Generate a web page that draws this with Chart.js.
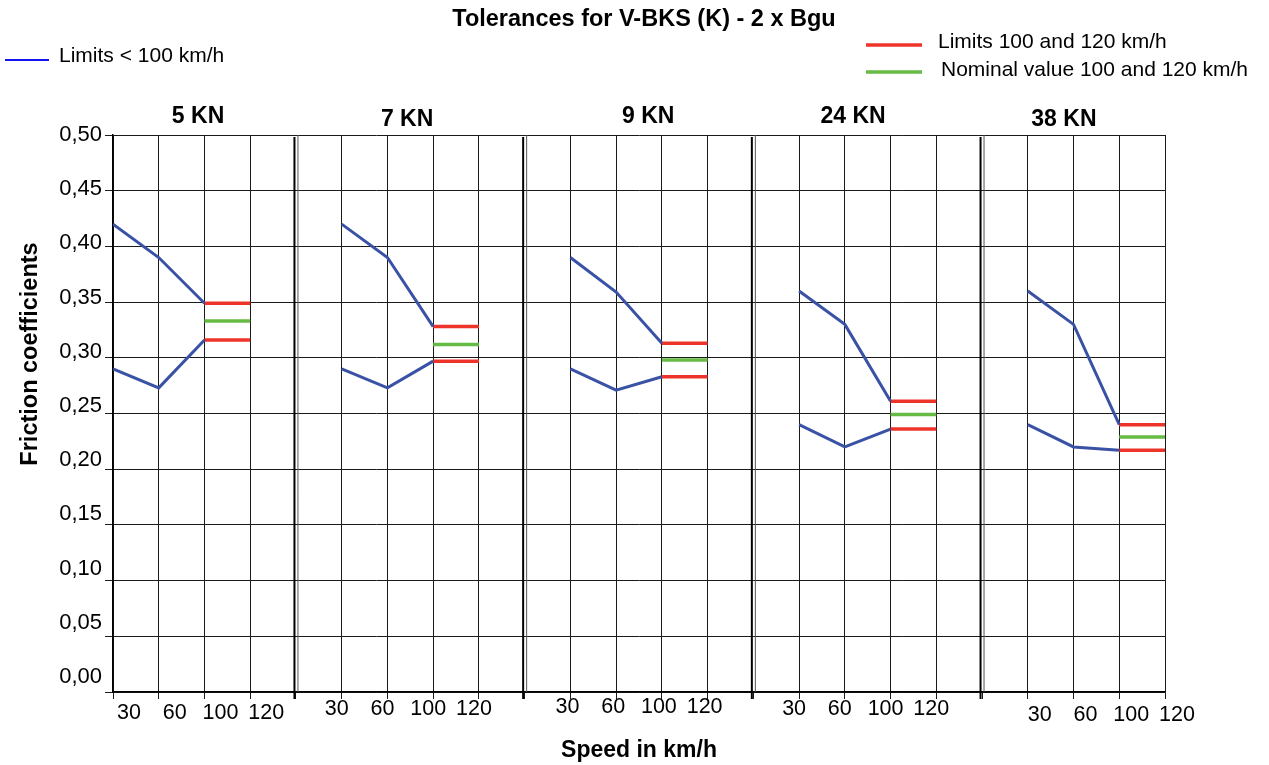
<!DOCTYPE html>
<html>
<head>
<meta charset="utf-8">
<title>Tolerances for V-BKS (K) - 2 x Bgu</title>
<script src="https://cdn.jsdelivr.net/npm/chart.js@4.4.1/dist/chart.umd.min.js"></script>
<style>
  body { margin: 0; background: #fff; }
  #wrap { width: 1269px; height: 765px; }
</style>
</head>
<body>
<div id="wrap"><canvas id="frictionChart" width="1269" height="765"></canvas></div>
<script>
// valores
var forces = ['5 KN', '7 KN', '9 KN', '24 KN', '38 KN'];
var speeds = ['30', '60', '100', '120'];
var yTicks = [0, 0.05, 0.10, 0.15, 0.20, 0.25, 0.30, 0.35, 0.40, 0.45, 0.50];

// limites < 100 km/h (30, 60, 100)
var upperLimit = [
    [0.42, 0.39, 0.349],
    [0.42, 0.39, 0.328],
    [0.39, 0.359, 0.313],
    [0.36, 0.33, 0.261],
    [0.36, 0.33, 0.240]
];
var lowerLimit = [
    [0.29, 0.273, 0.316],
    [0.29, 0.273, 0.297],
    [0.29, 0.271, 0.283],
    [0.24, 0.22, 0.236],
    [0.24, 0.22, 0.217]
];
// limites y valor nominal 100 y 120 km/h
var highLimit100 = [0.349, 0.328, 0.313, 0.261, 0.240];
var lowLimit100 = [0.316, 0.297, 0.283, 0.236, 0.217];
var nominal100 = [0.333, 0.312, 0.298, 0.249, 0.229];

// layout
var panelStep = 5;               // 4 velocidades + separador
var xMax = 23;
var font = "'Liberation Sans', Arial, Helvetica, sans-serif";
var blue = '#3a52a5';
var red = '#ee3328';
var green = '#66bb44';
var headerPos = [1.86, 6.43, 11.70, 16.18, 20.79];
var headerTop = [18, 15, 18, 18, 15];
var labelShift = [16, -5, -3, -5, 12];
var labelY = [713, 709, 707, 709, 715];

function isBorder(v) {
    return v % panelStep === panelStep - 1;
}

var datasets = [];
forces.forEach(function (f, k) {
    var base = k * panelStep;
    datasets.push({
        label: 'Limits < 100 km/h',
        data: speeds.slice(0, 3).map(function (s, j) { return { x: base + j, y: upperLimit[k][j] }; }),
        borderColor: blue, borderWidth: 3
    });
    datasets.push({
        label: 'Limits < 100 km/h',
        data: speeds.slice(0, 3).map(function (s, j) { return { x: base + j, y: lowerLimit[k][j] }; }),
        borderColor: blue, borderWidth: 3
    });
    datasets.push({
        label: 'Limits 100 and 120 km/h',
        data: [{ x: base + 2, y: highLimit100[k] }, { x: base + 3, y: highLimit100[k] }],
        borderColor: red, borderWidth: 3.5
    });
    datasets.push({
        label: 'Limits 100 and 120 km/h',
        data: [{ x: base + 2, y: lowLimit100[k] }, { x: base + 3, y: lowLimit100[k] }],
        borderColor: red, borderWidth: 3.5
    });
    datasets.push({
        label: 'Nominal value 100 and 120 km/h',
        data: [{ x: base + 2, y: nominal100[k] }, { x: base + 3, y: nominal100[k] }],
        borderColor: green, borderWidth: 3.5
    });
});

// separadores dobles entre paneles
var separadores = {
    id: 'separadores',
    beforeDatasetsDraw: function (chart) {
        var ctx = chart.ctx, x = chart.scales.x, a = chart.chartArea;
        ctx.save();
        for (var v = panelStep - 1; v < xMax; v += panelStep) {
            var px = x.getPixelForValue(v);
            ctx.strokeStyle = '#000';
            ctx.lineWidth = 2;
            ctx.beginPath(); ctx.moveTo(px - 1.5, a.top + 2); ctx.lineTo(px - 1.5, a.bottom + 7); ctx.stroke();
            ctx.strokeStyle = '#555';
            ctx.lineWidth = 1;
            ctx.beginPath(); ctx.moveTo(px + 2, a.top); ctx.lineTo(px + 2, a.bottom); ctx.stroke();
        }
        ctx.restore();
    }
};

// textos: titulo, leyenda, cabeceras, etiquetas de velocidad
var textos = {
    id: 'textos',
    afterDraw: function (chart) {
        var ctx = chart.ctx, x = chart.scales.x, a = chart.chartArea;
        ctx.save();
        ctx.fillStyle = '#000';
        ctx.textBaseline = 'middle';

        ctx.textAlign = 'center';
        ctx.font = 'bold 23.5px ' + font;
        ctx.fillText('Tolerances for V-BKS (K) - 2 x Bgu', 644, 20);

        // leyenda
        ctx.lineWidth = 2;
        ctx.strokeStyle = '#1414f0';
        ctx.beginPath(); ctx.moveTo(5, 60); ctx.lineTo(49, 60); ctx.stroke();
        ctx.lineWidth = 3.5;
        ctx.strokeStyle = red;
        ctx.beginPath(); ctx.moveTo(866, 45); ctx.lineTo(922, 45); ctx.stroke();
        ctx.strokeStyle = green;
        ctx.beginPath(); ctx.moveTo(866, 72); ctx.lineTo(922, 72); ctx.stroke();
        ctx.textAlign = 'left';
        ctx.font = '21px ' + font;
        ctx.fillText('Limits < 100 km/h', 59, 56);
        ctx.fillText('Limits 100 and 120 km/h', 938, 42);
        ctx.fillText('Nominal value 100 and 120 km/h', 941, 70);

        // cabeceras de panel
        ctx.textAlign = 'center';
        ctx.font = 'bold 23px ' + font;
        forces.forEach(function (f, k) {
            ctx.fillText(f, x.getPixelForValue(headerPos[k]), a.top - headerTop[k]);
        });

        // etiquetas del eje x
        ctx.font = '21.5px ' + font;
        forces.forEach(function (f, k) {
            speeds.forEach(function (s, j) {
                ctx.fillText(s, x.getPixelForValue(k * panelStep + j) + labelShift[k], labelY[k]);
            });
        });

        // titulo eje y
        ctx.font = 'bold 23.5px ' + font;
        ctx.translate(31, 354);
        ctx.rotate(-Math.PI / 2);
        ctx.fillText('Friction coefficients', 0, 0);
        ctx.restore();
    }
};

var ctx = document.getElementById('frictionChart').getContext('2d');
var chart = new Chart(ctx, {
    type: 'line',
    data: { datasets: datasets },
    options: {
        responsive: false,
        animation: false,
        devicePixelRatio: 1,
        layout: { padding: { top: 135, right: 104, bottom: 0, left: 0 } },
        elements: {
            point: { radius: 0 },
            line: { tension: 0, borderCapStyle: 'butt' }
        },
        plugins: {
            legend: { display: false },
            title: { display: false },
            tooltip: { enabled: false }
        },
        scales: {
            x: {
                type: 'linear',
                min: 0,
                max: xMax,
                afterBuildTicks: function (scale) {
                    var t = [];
                    for (var i = 0; i <= xMax; i++) t.push({ value: i });
                    scale.ticks = t;
                },
                afterFit: function (scale) { scale.height = 73; },
                ticks: { display: false },
                grid: {
                    color: function (c) { return isBorder(c.tick.value) ? 'rgba(0,0,0,0)' : '#1a1a1a'; },
                    tickColor: '#1a1a1a',
                    tickLength: 7,
                    lineWidth: 1
                },
                border: { color: '#000', width: 1.5 },
                title: {
                    display: true,
                    text: 'Speed in km/h',
                    color: '#000',
                    font: { family: font, size: 23, weight: 'bold' },
                    padding: { top: 0, bottom: 1 }
                }
            },
            y: {
                min: 0,
                max: 0.5,
                weight: 0,
                afterBuildTicks: function (scale) {
                    scale.ticks = yTicks.map(function (v) { return { value: v }; });
                },
                afterFit: function (scale) { scale.width = 8; },
                ticks: { display: false },
                grid: { color: '#1a1a1a', tickColor: '#1a1a1a', tickLength: 8, lineWidth: 1 },
                border: { color: '#000', width: 1.5 }
            },
            yl: {
                position: 'left',
                weight: 1,
                min: -0.0138,
                max: 0.5,
                afterBuildTicks: function (scale) {
                    scale.ticks = yTicks.map(function (v) { return { value: v }; });
                },
                afterFit: function (scale) { scale.width = 105; },
                grid: { display: false, drawTicks: false, tickLength: 0 },
                border: { display: false },
                ticks: {
                    color: '#000',
                    padding: 3,
                    font: { family: font, size: 22 },
                    callback: function (v) { return v.toFixed(2).replace('.', ','); }
                }
            }
        }
    },
    plugins: [separadores, textos]
});
</script>
</body>
</html>
